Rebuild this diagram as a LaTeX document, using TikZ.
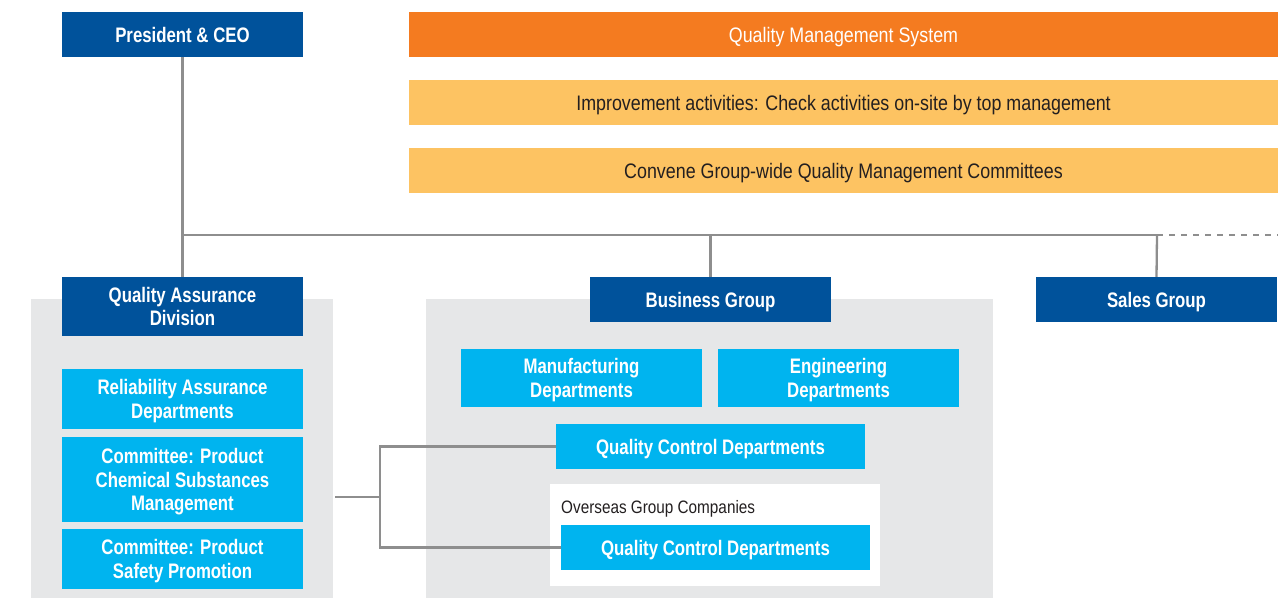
\documentclass[tikz,border=0pt]{standalone}
\usepackage{fontspec}
\setmainfont[FakeStretch=0.85]{Liberation Sans}
\newfontfamily\boxfont[FakeStretch=0.80]{Liberation Sans}
\definecolor{dblue}{HTML}{00529B}
\definecolor{lblue}{HTML}{00B4EF}
\definecolor{orng}{HTML}{F47B20}
\definecolor{lorng}{HTML}{FDC362}
\definecolor{pgray}{HTML}{E6E7E8}
\definecolor{lgray}{HTML}{8E8E8E}
\definecolor{txtdark}{HTML}{231F20}
\tikzset{
  base/.style={inner sep=0pt, align=center, text depth=0pt, font=\boxfont\bfseries\fontsize{21}{23.5}\selectfont},
  darkbox/.style={base, fill=dblue, text=white, minimum width=241pt, minimum height=45pt},
  lightbox/.style={base, fill=lblue, text=white, minimum width=241pt},
  bandbox/.style={inner sep=0pt, align=center, text depth=0pt, font=\fontsize{21}{24}\selectfont, minimum width=869pt, minimum height=45pt},
  conn/.style={draw=lgray, line width=2.3pt},
  panel/.style={fill=pgray, draw=none}
}
\begin{document}
\begin{tikzpicture}[x=1pt,y=-1pt]
\useasboundingbox (0,0) rectangle (1287,598);
% panels
\fill[panel] (31,299) rectangle (333,598);
\fill[panel] (426,299) rectangle (993,598);
\fill[white] (550,484) rectangle (880,586);
% top row
\node[darkbox] (ceo) at (182.5,34.5) {President \& CEO};
\node[bandbox, fill=orng, text=white] (qms) at (843.5,34.5) {Quality Management System};
\node[bandbox, fill=lorng, text=txtdark] (imp) at (843.5,102.5) {Improvement activities: Check activities on-site by top management};
\node[bandbox, fill=lorng, text=txtdark] (conv) at (843.5,170.5) {Convene Group-wide Quality Management Committees};
% second row
\node[darkbox, minimum height=59pt] (qad) at (182.5,306.5) {Quality Assurance\\Division};
\node[darkbox] (bg) at (710.5,299.5) {Business Group};
\node[darkbox] (sales) at (1156.5,299.5) {Sales Group};
% left column
\node[lightbox, minimum height=60pt] (rel) at (182.5,399) {Reliability Assurance\\Departments};
\node[lightbox, minimum height=85pt] (chem) at (182.5,479.5) {Committee: Product\\Chemical Substances\\Management};
\node[lightbox, minimum height=60pt] (safe) at (182.5,559) {Committee: Product\\Safety Promotion};
% business group contents
\node[lightbox, minimum height=58pt] (mfg) at (581.5,378) {Manufacturing\\Departments};
\node[lightbox, minimum height=58pt] (eng) at (838.5,378) {Engineering\\Departments};
\node[lightbox, minimum width=309pt, minimum height=45pt] (qc1) at (710.5,446.5) {Quality Control Departments};
\node[inner sep=0pt, anchor=west, text=txtdark, font=\fontsize{18}{20}\selectfont] (ovs) at (561,509) {Overseas Group Companies};
\node[lightbox, minimum width=309pt, minimum height=45pt] (qc2) at (715.5,547.5) {Quality Control Departments};
% connectors
\coordinate (j1) at (182.5,235);
\coordinate (jend) at (1157,235);
\coordinate (dend) at (1278,235);
\draw[conn] (ceo.south) -- (qad.north);
\draw[conn] (j1) -- (jend);
\draw[conn] (j1) -| (bg.north);
\draw[conn] (jend) -- (sales.north);
\draw[conn, dash pattern=on 6pt off 6pt] (jend) -- (dend);
\coordinate (lp) at (335,497);
\coordinate (jx) at (380,497);
\draw[conn] (lp) -- (jx);
\draw[conn] (380,447) |- (qc1.west);
\draw[conn] (380,446) |- (qc2.west);
\end{tikzpicture}
\end{document}
